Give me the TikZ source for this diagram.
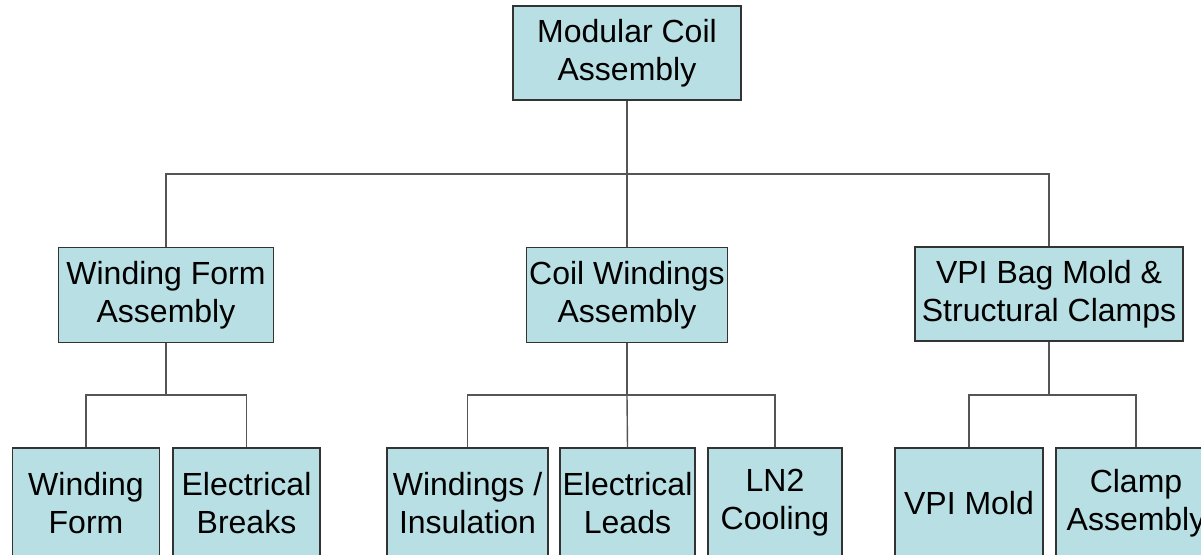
\documentclass[tikz,border=0pt]{standalone}
\usepackage{fontspec}
\setmainfont{Liberation Sans}
\usepackage{xcolor}
\usetikzlibrary{positioning,calc}

\definecolor{boxfill}{RGB}{184,223,227}
\definecolor{boxline}{RGB}{51,51,51}
\definecolor{wire}{RGB}{85,85,85}

\tikzset{
  part/.style={draw=boxline, fill=boxfill, line width=0.6pt, rectangle, align=center, inner sep=0pt,
    font=\fontsize{16pt}{19pt}\selectfont},
  link/.style={draw=wire, line width=0.7pt}
}

\begin{document}
\begin{tikzpicture}[x=0.5pt, y=-0.5pt]
  \clip (0,0) rectangle (1201,554);

  % top level
  \node[part, minimum width=114pt, minimum height=47pt] (mca) at (627,53) {Modular Coil\\Assembly};

  % second level
  \node[part, minimum width=107.5pt, minimum height=47.5pt] (wfa) at (166,295) {Winding Form\\Assembly};
  \node[part, minimum width=100.5pt, minimum height=47.5pt] (cwa) at (627,295) {Coil Windings\\Assembly};
  \node[part, minimum width=134pt, minimum height=47pt] (vpi) at (1049,294) {VPI Bag Mold \&\\Structural Clamps};

  % third level
  \node[part, minimum width=73.5pt, minimum height=55pt] (wform) at (86,503) {Winding\\Form};
  \node[part, minimum width=73.5pt, minimum height=55pt] (ebrk) at (246.5,503) {Electrical\\Breaks};
  \node[part, minimum width=80.5pt, minimum height=55pt] (wins) at (467.5,503) {Windings /\\Insulation};
  \node[part, minimum width=67.5pt, minimum height=55pt] (elead) at (627.5,503) {Electrical\\Leads};
  \node[part, minimum width=67pt, minimum height=55pt] (ln2) at (775,503) {LN2\\Cooling};
  \node[part, minimum width=74pt, minimum height=55pt] (vmold) at (969,503) {VPI Mold};
  \node[part, minimum width=80pt, minimum height=55pt] (clamp) at (1136,503) {Clamp\\Assembly};

  % buses
  \coordinate (busTop) at (627,174);
  \coordinate (busWfa) at (166,395);
  \coordinate (busCwa) at (627,395);
  \coordinate (busVpi) at (1049,395);

  \draw[link] (mca.south) -- (busTop);
  \draw[link] (busTop) -| (wfa.north);
  \draw[link] (busTop) -- (cwa.north);
  \draw[link] (busTop) -| (vpi.north);

  \draw[link] (wfa.south) -- (busWfa);
  \draw[link] (busWfa) -| (wform.north);
  \draw[link] (busWfa) -| (ebrk.north);

  \draw[link] (cwa.south) -- (busCwa);
  \draw[link] (busCwa) -| (wins.north);
  \draw[link] (busCwa) -- (elead.north);
  \draw[link] (busCwa) -| (ln2.north);

  \draw[link] (vpi.south) -- (busVpi);
  \draw[link] (busVpi) -| (vmold.north);
  \draw[link] (busVpi) -| (clamp.north);
\end{tikzpicture}
\end{document}
